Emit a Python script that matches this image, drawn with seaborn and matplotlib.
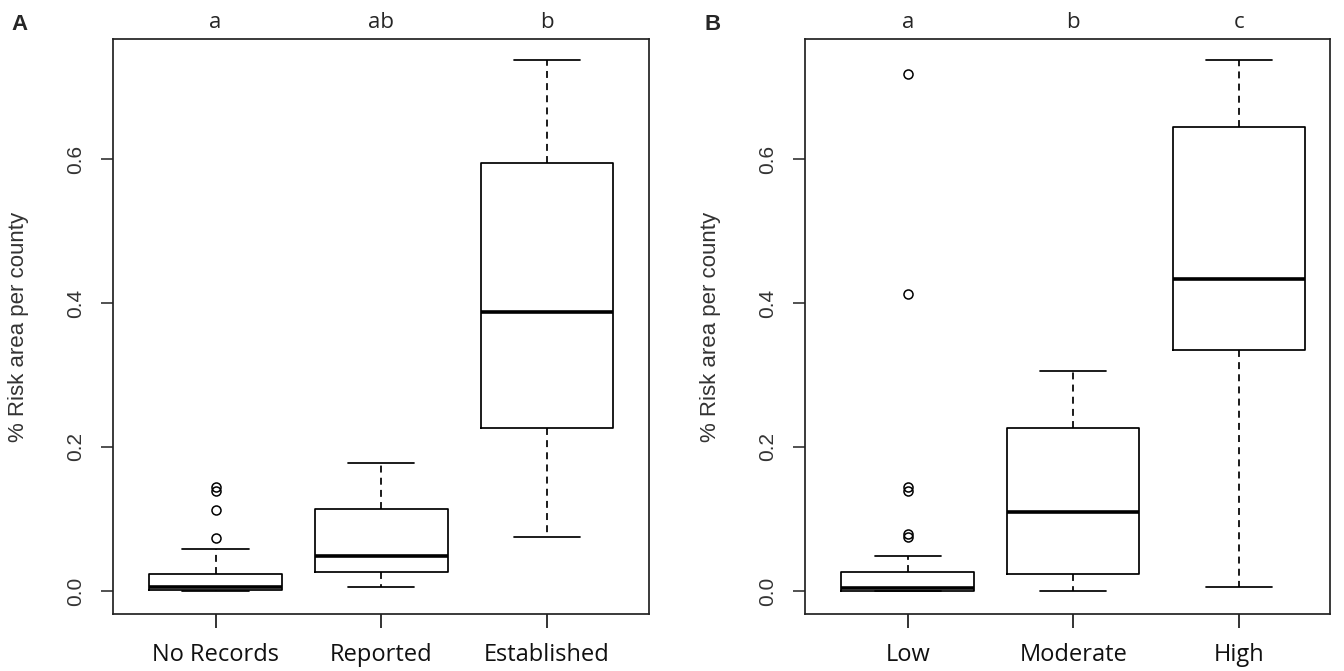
import matplotlib
matplotlib.use("Agg")
import matplotlib.pyplot as plt
import matplotlib.transforms as mtransforms
import seaborn as sns

# ---- data ----
cats_a = ["No Records", "Reported", "Established"]
letters_a = ["a", "ab", "b"]
whislo_a = [0.0, 0.005, 0.075]
q1_a = [0.001, 0.027, 0.227]
med_a = [0.006, 0.048, 0.388]
q3_a = [0.023, 0.114, 0.595]
whishi_a = [0.058, 0.178, 0.737]
fliers_a = [[0.074, 0.112, 0.139, 0.145], [], []]

cats_b = ["Low", "Moderate", "High"]
letters_b = ["a", "b", "c"]
whislo_b = [0.0, 0.0, 0.005]
q1_b = [0.0, 0.023, 0.334]
med_b = [0.004, 0.110, 0.433]
q3_b = [0.027, 0.227, 0.644]
whishi_b = [0.048, 0.306, 0.737]
fliers_b = [[0.0755, 0.0795, 0.139, 0.145, 0.413, 0.718], [], []]

yticks = [0.0, 0.2, 0.4, 0.6]
ytick_labels = ["0.0", "0.2", "0.4", "0.6"]
ylabel = "% Risk area per county"
panel_tags = ["A", "B"]

sns.set_style("ticks")
plt.rcParams["font.family"] = ["Liberation Sans", "DejaVu Sans"]

W, H = 1344, 671
fig = plt.figure(figsize=(W / 100, H / 100), dpi=100)


def px_axes(l, t, r, b):
    return fig.add_axes([l / W, 1 - b / H, (r - l) / W, (b - t) / H])


ax_a = px_axes(112.7, 39.4, 649.0, 613.7)
ax_b = px_axes(804.9, 39.4, 1330.0, 613.7)


def draw(ax, cats, letters, wl, q1, med, q3, wh, fl, xlim, ylab_x, tag, tag_x):
    stats = []
    for i in range(len(cats)):
        stats.append(dict(label=cats[i], whislo=wl[i], q1=q1[i], med=med[i],
                          q3=q3[i], whishi=wh[i], fliers=fl[i]))
    ax.bxp(stats, positions=[1, 2, 3], widths=0.8, showfliers=True,
           boxprops=dict(color="black", linewidth=1.25),
           medianprops=dict(color="black", linewidth=2.6, solid_capstyle="butt"),
           whiskerprops=dict(color="black", linewidth=1.25, linestyle=(0, (4, 3))),
           capprops=dict(color="black", linewidth=1.25),
           capwidths=0.4,
           flierprops=dict(marker="o", markersize=6.5, markerfacecolor="none",
                           markeredgecolor="black", markeredgewidth=1.1))
    ax.set_xlim(*xlim)
    ax.set_ylim(-0.0315, 0.766)
    ax.set_yticks(yticks)
    ax.set_yticklabels(ytick_labels)
    ax.set_xticks([1, 2, 3])
    ax.set_xticklabels(cats, family=["Open Sans", "DejaVu Sans"], fontsize=17)
    ax.tick_params(axis="y", labelrotation=90, length=9, width=1.2,
                   labelsize=15, pad=11, colors="#333333")
    ax.tick_params(axis="x", length=10, width=1.2, pad=11, colors="#111111")
    for lab in ax.get_yticklabels():
        lab.set_va("center")
    for s in ax.spines.values():
        s.set_linewidth(1.25)
        s.set_color("#222222")
    ax.set_ylabel(ylabel, fontsize=16, color="#333333")
    ax.yaxis.set_label_coords(ylab_x, 0.5)
    trans = mtransforms.blended_transform_factory(ax.transData, ax.transAxes)
    for i, t in enumerate(letters):
        ax.text(i + 1, 1.0286, t, transform=trans, ha="center", va="center",
                fontsize=16, family=["Open Sans", "DejaVu Sans"])
    fig.text(tag_x / W, 1 - 24 / H, tag, ha="center", va="center",
             fontsize=16, fontweight="bold")


draw(ax_a, cats_a, letters_a, whislo_a, q1_a, med_a, q3_a, whishi_a, fliers_a,
     (0.379, 3.616), (29 - 112.7) / (649 - 112.7), panel_tags[0], 19)
draw(ax_b, cats_b, letters_b, whislo_b, q1_b, med_b, q3_b, whishi_b, fliers_b,
     (0.379, 3.551), (721 - 804.9) / (1330 - 804.9), panel_tags[1], 713)

fig.savefig("out.png", dpi=100)
